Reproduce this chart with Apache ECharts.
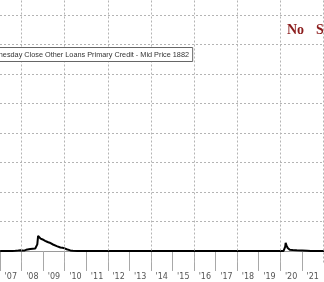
<!DOCTYPE html>
<html><head><meta charset="utf-8">
<script src="https://cdn.jsdelivr.net/npm/echarts@6/dist/echarts.min.js"></script>
<style>html,body{margin:0;padding:0;background:#fff}#c{width:324px;height:282px}</style>
</head><body><div id="c"></div>
<script>
// Weekly primary credit (approx., $B)
const dates = [
 '2007-01-03','2007-07-25','2007-08-22','2007-09-19','2007-11-07','2007-12-19','2008-01-16','2008-02-13',
 '2008-03-19','2008-04-16','2008-05-28','2008-07-09','2008-08-20','2008-09-10','2008-09-24','2008-10-08',
 '2008-10-22','2008-11-05','2008-11-19','2008-12-03','2008-12-24','2009-01-14','2009-02-04','2009-02-25',
 '2009-03-18','2009-04-22','2009-05-20','2009-06-17','2009-07-15','2009-08-19','2009-09-16','2009-10-21',
 '2009-11-25','2009-12-30','2010-02-03','2010-03-03','2010-04-07','2010-05-19','2010-08-04','2012-01-04',
 '2015-01-07','2018-01-03','2020-02-26','2020-03-11','2020-03-25','2020-04-01','2020-04-15','2020-05-06',
 '2020-06-10','2020-07-29','2020-10-07','2021-01-06','2021-03-31','2021-06-02','2021-12-29','2022-02-02'
];
const values = [
 0.3, 0.3, 2.5, 1.5, 3, 5, 4, 2.5,
 8, 13, 14, 16, 17, 18, 45, 103,
 98, 92, 84, 82, 78, 68, 69, 64,
 61, 56, 50, 44, 38, 33, 30, 24,
 22, 18, 12, 8, 4, 1.2, 0.4, 0.2,
 0.2, 0.2, 0.3, 4, 30, 56, 38, 20,
 8, 6, 5, 4, 2, 0.5, 0.3, 0.3
];
const yearTicks = [2007,2008,2009,2010,2011,2012,2013,2014,2015,2016,2017,2018,2019,2020,2021,2022];
const gridYears = [2008,2010,2012,2014,2016,2018,2020,2022];
const gridValues = [200,400,600,800,1000,1200,1400,1600];
const seriesName = 'US Fed Wednesday Close Other Loans Primary Credit - Mid Price 1882';
const noteWords = ['No', 'Stigma'];

function toYear(s){
  const d = new Date(s + 'T00:00:00Z');
  const y = d.getUTCFullYear();
  const a = Date.UTC(y,0,1), b = Date.UTC(y+1,0,1);
  return y + (d.getTime()-a)/(b-a);
}
const points = dates.map((d,i)=>[toYear(d), values[i]]);

const chart = echarts.init(document.getElementById('c'), null, {renderer:'canvas'});
const dotted = {color:'#b4b4b4', width:1, type:[2,2]};
chart.setOption({
  animation:false,
  backgroundColor:'#fff',
  grid:{left:0, right:0.6, top:0, bottom:19.5, containLabel:false},
  xAxis:{
    type:'value', min:2007, max:2022, interval:1,
    axisLine:{show:true, lineStyle:{color:'#9a9a9a', width:1}},
    axisTick:{show:true, length:20, lineStyle:{color:'#a8a8a8', width:1}},
    splitLine:{show:false},
    axisLabel:{
      show:true, margin:10, color:'#555', fontSize:8, fontFamily:'DejaVu Sans',
      padding:[0,0,0,21.6], showMinLabel:true, showMaxLabel:false,
      formatter:(v)=> (Number.isInteger(v) && yearTicks.indexOf(v)>=0) ? "'" + String(v).slice(2) : ''
    }
  },
  yAxis:{
    type:'value', min:-78, max:1701.7, show:false,
    splitLine:{show:false}
  },
  title:{
    text: seriesName, right:131, top:47,
    backgroundColor:'#fff', borderColor:'#666', borderWidth:1, padding:[4,4,4,4],
    textStyle:{fontSize:7.3, fontWeight:'normal', color:'#333', fontFamily:'"Liberation Sans", Arial, sans-serif'}
  },
  graphic:[{
    type:'text', left:287, top:23, z:10,
    style:{
      text:'{a|' + noteWords[0] + '}{b|' + noteWords[1] + '}',
      rich:{
        a:{fill:'#8b1c1c', font:'bold 14px "Liberation Serif"'},
        b:{fill:'#8b1c1c', font:'bold 14px "Liberation Serif"', padding:[0,0,0,12]}
      }
    }
  }],
  series:[
    {
      type:'line', data:[], z:1, silent:true,
      markLine:{
        silent:true, symbol:'none', label:{show:false}, animation:false,
        lineStyle:dotted,
        data: gridYears.map(y=>({xAxis:y})).concat(gridValues.map(v=>({yAxis:v})))
      }
    },
    {
      name: seriesName, type:'line', data:points, z:3,
      showSymbol:false, symbol:'none',
      lineStyle:{color:'#000', width:2}
    }
  ]
});
</script></body></html>
